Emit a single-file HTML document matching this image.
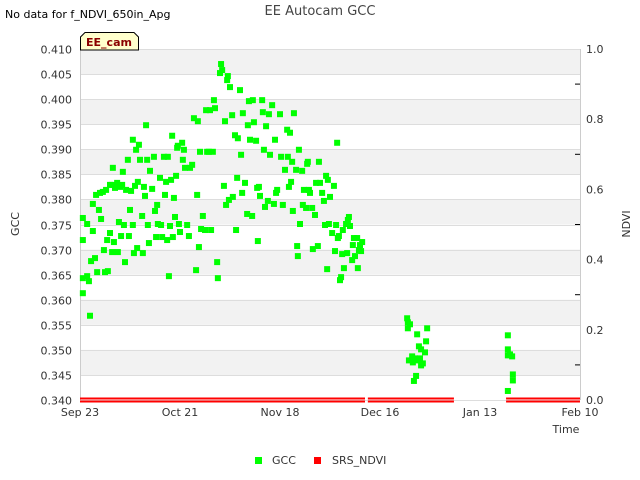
<!DOCTYPE html>
<html><head><meta charset="utf-8"><style>
body{margin:0;background:#fff;}
svg{display:block;font-family:"DejaVu Sans","Liberation Sans",sans-serif;}
</style></head><body>
<svg id="chart" width="640" height="480" xmlns="http://www.w3.org/2000/svg">
<text x="5" y="18" font-size="11" fill="#000">No data for f_NDVI_650in_Apg</text>
<text x="320" y="15" font-size="13" fill="#444" text-anchor="middle">EE Autocam GCC</text>
<g id="plot"></g>
<path d="M80.5,50 L80.5,37 L85,32.5 L134,32.5 L138.5,37 L138.5,50 Z" fill="#ffffcc" stroke="#000" stroke-width="1"/>
<text x="109" y="46" font-size="11" font-weight="bold" fill="#8b0000" text-anchor="middle">EE_cam</text>
<text x="19" y="224" font-size="11" fill="#333" text-anchor="middle" transform="rotate(-90 19 224)">GCC</text>
<text x="630" y="224" font-size="11" fill="#333" text-anchor="middle" transform="rotate(-90 630 224)">NDVI</text>
<text x="566" y="433" font-size="11" fill="#333" text-anchor="middle">Time</text>
<rect x="255" y="457" width="7" height="7" fill="#00ff00"/>
<text x="272" y="464" font-size="11" fill="#333">GCC</text>
<rect x="314" y="457" width="7" height="7" fill="#ff0000"/>
<text x="332" y="464" font-size="11" fill="#333">SRS_NDVI</text>
</svg>
<script>
const xTickLabels=["Sep 23","Oct 21","Nov 18","Dec 16","Jan 13","Feb 10"];
const xTickDays=[0,28,56,84,112,140];
const yTicks=[0.340,0.345,0.350,0.355,0.360,0.365,0.370,0.375,0.380,0.385,0.390,0.395,0.400,0.405,0.410];
const y2Ticks=[0.0,0.2,0.4,0.6,0.8,1.0];
const ndviSegStart=[0,80.6,119.3];
const ndviSegEnd=[79.8,104.7,140];
const gccDays=[0.8,0.8,0.8,0.8,2.0,2.0,2.5,2.8,3.1,3.6,3.6,4.2,4.5,4.8,5.3,5.6,5.9,6.4,6.7,7.0,7.3,7.6,7.8,8.4,8.4,9.0,9.0,9.2,9.5,9.8,10.4,10.6,10.9,11.2,11.5,11.8,12.0,12.3,12.6,12.9,13.4,13.7,14.0,14.3,14.8,14.8,15.1,15.4,15.7,16.0,16.2,16.5,16.8,17.4,17.6,17.9,18.2,18.5,18.8,19.0,19.3,19.6,20.2,20.7,21.0,21.3,21.6,21.8,22.4,22.7,23.0,23.5,23.8,24.1,24.4,24.6,24.9,25.2,25.5,25.8,26.0,26.3,26.6,26.9,27.2,27.4,27.7,28.0,28.6,28.8,29.1,29.4,30.0,30.5,30.8,31.4,31.9,32.5,32.8,33.0,33.3,33.6,33.9,34.4,35.0,35.3,35.6,36.1,36.4,36.7,37.2,37.5,37.8,38.4,38.6,39.2,39.5,39.8,40.3,40.6,40.9,41.2,41.4,41.7,42.0,42.6,42.8,43.4,43.7,44.0,44.2,44.8,45.1,45.4,45.6,46.2,46.8,47.0,47.3,47.6,48.2,48.4,48.7,49.3,49.6,49.8,50.1,50.4,51.0,51.2,51.5,51.8,52.1,52.6,52.9,53.2,53.8,54.3,54.6,54.9,55.2,56.0,56.3,56.8,57.4,58.0,58.2,58.5,58.8,59.1,59.4,59.6,59.9,60.5,60.8,61.0,61.3,61.6,62.2,62.4,62.7,63.3,63.6,63.8,64.1,64.4,65.0,65.2,65.8,66.1,66.6,66.9,67.2,67.8,68.3,68.6,68.9,69.2,69.4,69.7,70.0,70.6,71.1,71.4,71.7,72.0,72.2,72.5,72.8,73.1,73.4,73.6,73.9,74.5,74.8,75.0,75.3,75.6,76.2,76.4,76.7,77.0,77.6,77.8,78.1,78.4,78.7,79.0,91.6,91.8,91.8,92.4,92.1,93.0,93.2,93.5,93.8,94.1,94.4,94.6,94.9,95.2,95.5,95.5,96.0,96.6,96.9,97.2,119.8,119.8,119.8,120.4,121.0,121.2,121.2,119.8];
const gccValues=[0.3763,0.3719,0.3643,0.3613,0.3647,0.3751,0.3637,0.3568,0.3677,0.3791,0.3737,0.3683,0.3809,0.3655,0.3779,0.3813,0.3761,0.3815,0.3699,0.3655,0.3819,0.3719,0.3657,0.3829,0.3733,0.3829,0.3695,0.3863,0.3715,0.3823,0.3833,0.3695,0.3755,0.3825,0.3727,0.3829,0.3855,0.3749,0.3675,0.3819,0.3879,0.3727,0.3779,0.3817,0.3919,0.3749,0.3693,0.3827,0.3899,0.3703,0.3835,0.3909,0.3879,0.3767,0.3693,0.3825,0.3807,0.3948,0.3879,0.3749,0.3713,0.3857,0.3821,0.3885,0.3777,0.3725,0.3789,0.3751,0.3843,0.3749,0.3725,0.3885,0.3809,0.3835,0.3719,0.3885,0.3647,0.3747,0.3839,0.3927,0.3725,0.3803,0.3765,0.3847,0.3903,0.3907,0.3751,0.3735,0.3913,0.3879,0.3899,0.3863,0.3749,0.3727,0.3863,0.3869,0.3962,0.3659,0.3809,0.3956,0.3705,0.3895,0.3741,0.3767,0.3739,0.3978,0.3895,0.3895,0.3978,0.3739,0.3895,0.3998,0.3982,0.3675,0.3643,0.4052,0.4070,0.4058,0.3827,0.3956,0.3789,0.4038,0.4046,0.3799,0.4024,0.3968,0.3805,0.3928,0.3739,0.3843,0.3922,0.4018,0.3889,0.3813,0.3972,0.3833,0.3771,0.3948,0.3996,0.3919,0.3767,0.3998,0.3954,0.3917,0.3823,0.3717,0.3825,0.3807,0.3998,0.3974,0.3899,0.3785,0.3946,0.3797,0.3970,0.3889,0.3988,0.3791,0.3919,0.3813,0.3819,0.3970,0.3885,0.3789,0.3859,0.3939,0.3885,0.3825,0.3933,0.3835,0.3875,0.3777,0.3972,0.3859,0.3707,0.3687,0.3899,0.3751,0.3857,0.3789,0.3819,0.3783,0.3871,0.3875,0.3819,0.3813,0.3783,0.3701,0.3769,0.3833,0.3707,0.3875,0.3833,0.3813,0.3797,0.3749,0.3847,0.3661,0.3839,0.3751,0.3805,0.3733,0.3827,0.3697,0.3749,0.3913,0.3723,0.3727,0.3639,0.3645,0.3691,0.3739,0.3663,0.3751,0.3693,0.3759,0.3765,0.3747,0.3679,0.3709,0.3723,0.3687,0.3723,0.3663,0.3699,0.3709,0.3697,0.3715,0.3563,0.3555,0.3543,0.3551,0.3479,0.3487,0.3475,0.3438,0.3483,0.3448,0.3531,0.3479,0.3507,0.3483,0.3469,0.3501,0.3473,0.3495,0.3517,0.3543,0.3529,0.3501,0.3489,0.3491,0.3487,0.3451,0.3439,0.3418];

const NS="http://www.w3.org/2000/svg";
const X0=80,X1=580,Y0=400,Y1=49;
const xScale=d=>X0+(d-0)/(140-0)*(X1-X0);
const yScale=v=>Y0-(v-0.340)/(0.410-0.340)*(Y0-Y1);
const y2Scale=v=>Y0-v*(Y0-Y1);
const plot=document.getElementById('plot');
function mk(tag,attrs){const e=document.createElementNS(NS,tag);for(const k in attrs)e.setAttribute(k,attrs[k]);plot.appendChild(e);return e;}
// bands
for(let i=0;i<yTicks.length-1;i++){
  const lo=yTicks[i],hi=yTicks[i+1];
  if(i%2===1){
    const r=mk('rect',{x:X0,y:yScale(hi),width:X1-X0,height:yScale(lo)-yScale(hi),fill:'#f2f2f2'});
    
    
  }
}
yTicks.forEach((t,i)=>{
  const y=Math.round(yScale(t))+0.5;
  const l=mk('line',{x1:X0,x2:X1,y1:y,y2:y,stroke:'#dddddd','stroke-width':1});
  
  
  const tx=mk('text',{x:72,y:y+4,'font-size':11,fill:'#333','text-anchor':'end'});
  tx.textContent=t.toFixed(3);
  
  
});
y2Ticks.forEach(t=>{
  const y=y2Scale(t);
  const tx=mk('text',{x:586,y:y+4,'font-size':11,fill:'#333'});
  tx.textContent=t.toFixed(1);
  
  
});
for(let v=0.1;v<1;v+=0.2){
  const y=y2Scale(v);
  const l=mk('line',{x1:575,x2:580,y1:y,y2:y,stroke:'#000'});
  
  
}
const ax=mk('line',{x1:X0+0.5,x2:X0+0.5,y1:Y1,y2:Y0,stroke:'#ccc'});


const ax2=mk('line',{x1:X1+0.5,x2:X1+0.5,y1:Y1,y2:Y0,stroke:'#ccc'});


xTickLabels.forEach((lab,i)=>{
  const tx=mk('text',{x:xScale(xTickDays[i]),y:416,'font-size':11,fill:'#333','text-anchor':'middle'});
  tx.textContent=lab;
  
  
});
// NDVI segments
ndviSegStart.forEach((s,i)=>{
  [398.5,401.5].forEach(yy=>{
    const l=mk('line',{x1:xScale(s),x2:xScale(ndviSegEnd[i]),y1:yy,y2:yy,stroke:'#ff0000','stroke-width':2});
    
    
  });
});
// GCC points
gccDays.forEach((d,i)=>{
  const r=mk('rect',{x:xScale(d)-3,y:yScale(gccValues[i])-3,width:6,height:6,fill:'#00ff00'});
  
  
});
</script>
</body></html>
